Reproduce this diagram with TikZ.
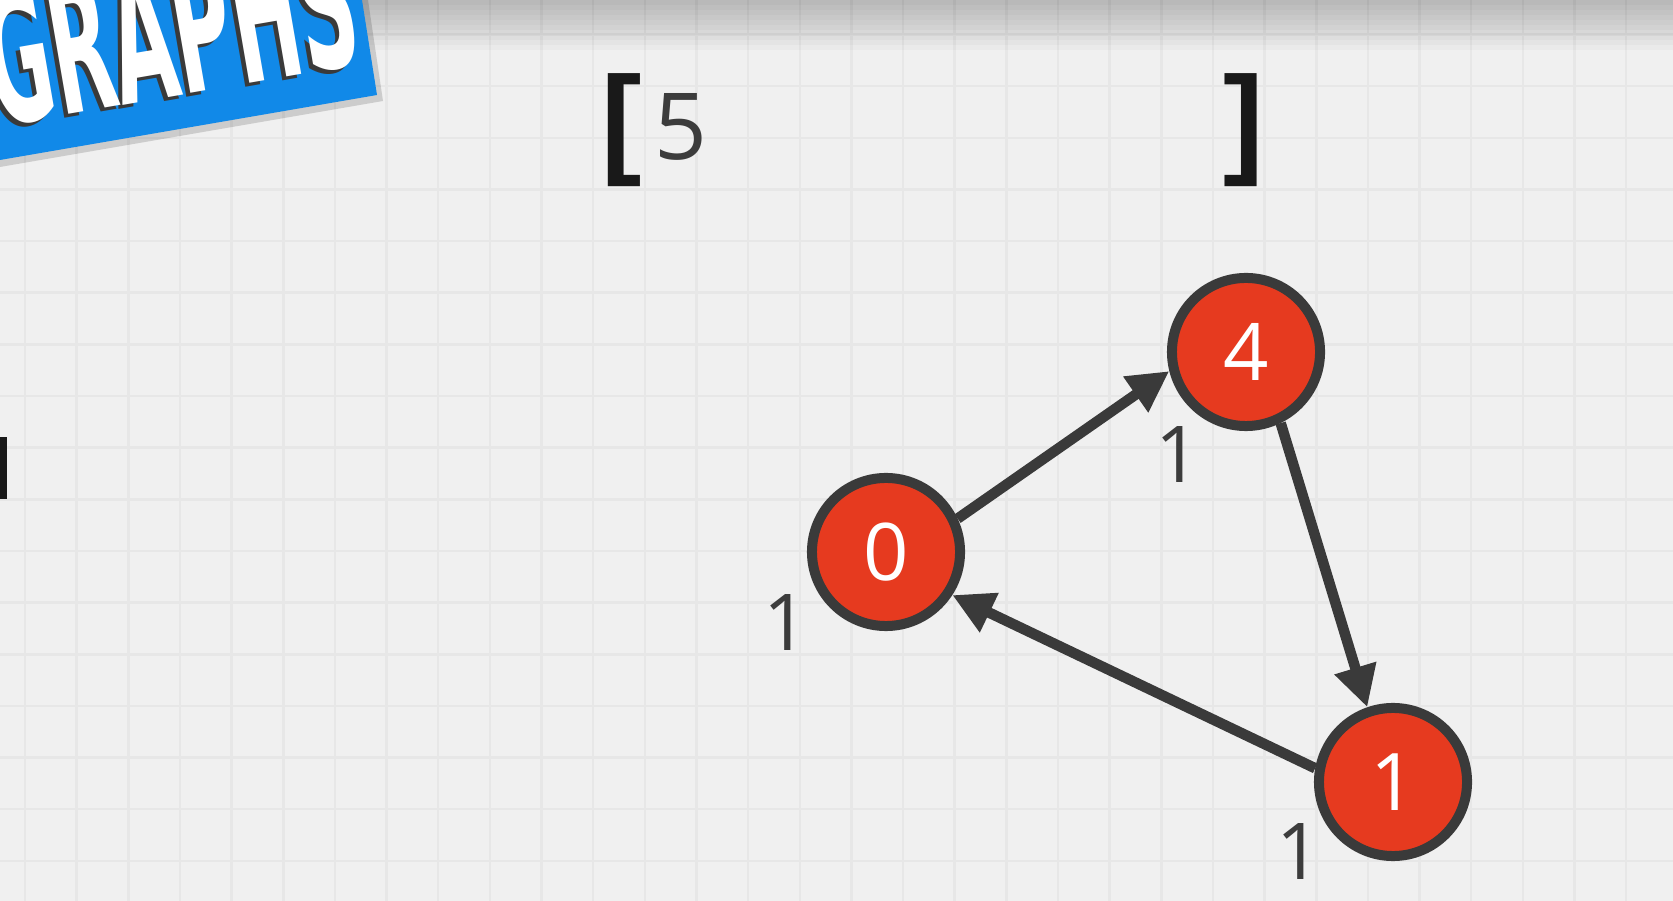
\documentclass[tikz,border=0pt]{standalone}
\usepackage{fontspec}
\setmainfont{Open Sans}
\newfontfamily\bannerfont{DejaVu Sans Condensed Bold}
\newfontfamily\bracketfont{Liberation Sans Bold}
\usepackage{tikz}
\usetikzlibrary{arrows.meta}
\definecolor{bg}{HTML}{F0F0F0}
\definecolor{gridgray}{HTML}{E7E7E7}
\definecolor{nodered}{HTML}{E63A1F}
\definecolor{edgegray}{HTML}{3A3A3A}
\definecolor{labelgray}{HTML}{3C3C3C}
\definecolor{bannerblue}{HTML}{1189E8}

\begin{document}
\begin{tikzpicture}[x=0.01cm,y=-0.01cm,
  vertex/.style={circle,draw=edgegray,fill=nodered,line width=0.1cm,minimum size=1.48cm,inner sep=0pt,text=white,font=\fontsize{22.6pt}{24pt}\selectfont},
  weight/.style={inner sep=0pt,text=labelgray,font=\fontsize{22.3pt}{24pt}\selectfont},
  edge/.style={draw=edgegray,line width=0.105cm,-{Triangle[length=0.41cm,width=0.41cm]}},
  gridline/.style={draw=gridgray,line width=0.025cm}]
\useasboundingbox (0,0) rectangle (1673,901);
\clip (0,0) rectangle (1673,901);

% paper
\fill[bg] (0,0) rectangle (1673,901);
\foreach \i in {0,...,32} \draw[gridline] (25+\i*51.65,0) -- ++(0,901);
\foreach \j in {0,...,17} \draw[gridline] (0,34.5+\j*51.65) -- ++(1673,0);
\foreach \k in {0,...,9} \fill[black,opacity=0.025] (0,0) rectangle (1673,5+\k*5);

% banner
\fill[black,opacity=0.15] (0,0) -- (368,0) -- (383,101) -- (0,167) -- cycle;
\fill[bannerblue] (0,0) -- (362,0) -- (377,95) -- (0,160) -- cycle;
\node (titleshadow) at (177,99) [anchor=base,rotate=9.8,inner sep=0pt,text=edgegray,font=\bannerfont\fontsize{52pt}{54pt}\selectfont] {\scalebox{0.49}[1]{GRAPHS}};
\node (title) at (181,95) [anchor=base,rotate=9.8,inner sep=0pt,text=white,font=\bannerfont\fontsize{52pt}{54pt}\selectfont] {\scalebox{0.49}[1]{GRAPHS}};

\fill[black!90] (0,437) rectangle (7,499);

% array
\node (lb) at (601,162) [anchor=base west,inner sep=0pt,text=black!90,font=\bracketfont\fontsize{34.5pt}{36pt}\selectfont] {[};
\node (rb) at (1265,162) [anchor=base east,inner sep=0pt,text=black!90,font=\bracketfont\fontsize{34.5pt}{36pt}\selectfont] {]};
\node (v5) at (681,160) [anchor=base,inner sep=0pt,text=labelgray,font=\fontsize{26.3pt}{28pt}\selectfont] {5};

% graph
\node (n0) at (886,552) [vertex] {0};
\node (n4) at (1246,352) [vertex] {4};
\node (n1) at (1393,782) [vertex] {1};

\draw[edge] (n0.25) -- (n4.194);
\draw[edge] (n4.-64) -- (n1.109);
\draw[edge] (n1.170) -- (n0.-33);

\node (w0) at (786,623) [weight] {1};
\node (w4) at (1178,455) [weight] {1};
\node (w1) at (1299,852) [weight] {1};
\end{tikzpicture}
\end{document}
